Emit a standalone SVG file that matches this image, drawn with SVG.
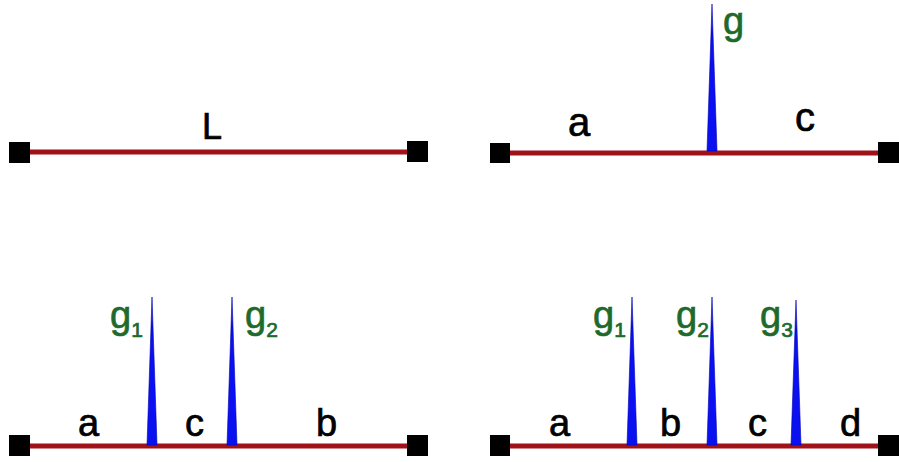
<svg xmlns="http://www.w3.org/2000/svg" width="899" height="462" viewBox="0 0 899 462">
<style>
.bar{stroke:#a01218;stroke-width:5;fill:none}
.end{fill:#000}
.spike{fill:#0a10f0;stroke:#0000b0;stroke-width:0.6}
.lbl{font-family:"Liberation Sans",Arial,sans-serif;font-size:38px;fill:#000;stroke:#000;stroke-width:0.7}
.g{font-family:"Liberation Sans",Arial,sans-serif;font-size:38px;fill:#1e6a2c;stroke:#1e6a2c;stroke-width:0.7}
.sub{font-size:21px}
</style>
<rect width="899" height="462" fill="#fff"/>
<g id="connectors">
<line class="bar" x1="20" y1="152" x2="417" y2="152"/>
<line class="bar" x1="500" y1="153" x2="888" y2="153"/>
<line class="bar" x1="20" y1="446" x2="417" y2="446"/>
<line class="bar" x1="500" y1="446" x2="888" y2="446"/>
</g>
<g id="panel1">
<rect class="end" x="9" y="142" width="21" height="21"/>
<rect class="end" x="407" y="141" width="21" height="21"/>
<text class="lbl" x="202" y="139" style="font-size:36px">L</text>
</g>
<g id="panel2">
<rect class="end" x="490" y="143" width="20" height="20"/>
<rect class="end" x="878" y="142" width="21" height="21"/>
<polygon class="spike" points="707,151 712,4 717,151"/>
<text class="g" x="723" y="34">g</text>
<text class="lbl" x="568" y="136" style="font-size:40px">a</text>
<text class="lbl" x="795" y="131" style="font-size:40px">c</text>
</g>
<g id="panel3">
<rect class="end" x="9" y="435" width="21" height="21"/>
<rect class="end" x="407" y="435" width="21" height="21"/>
<polygon class="spike" points="147,445 152,297 157,445"/>
<polygon class="spike" points="227,445 232,297 237,445"/>
<text class="g" x="110" y="328">g<tspan class="sub" dy="9">1</tspan></text>
<text class="g" x="245" y="328">g<tspan class="sub" dy="9">2</tspan></text>
<text class="lbl" x="78" y="436">a</text>
<text class="lbl" x="185" y="436">c</text>
<text class="lbl" x="316" y="436">b</text>
</g>
<g id="panel4">
<rect class="end" x="490" y="435" width="20" height="21"/>
<rect class="end" x="878" y="435" width="21" height="21"/>
<polygon class="spike" points="627,445 632,297 637,445"/>
<polygon class="spike" points="707,445 712,297 717,445"/>
<polygon class="spike" points="791,445 796,300 801,445"/>
<text class="g" x="593" y="328">g<tspan class="sub" dy="9">1</tspan></text>
<text class="g" x="676" y="328">g<tspan class="sub" dy="9">2</tspan></text>
<text class="g" x="760" y="328">g<tspan class="sub" dy="9">3</tspan></text>
<text class="lbl" x="549" y="436">a</text>
<text class="lbl" x="660" y="436">b</text>
<text class="lbl" x="748" y="436">c</text>
<text class="lbl" x="840" y="436">d</text>
</g>
</svg>
